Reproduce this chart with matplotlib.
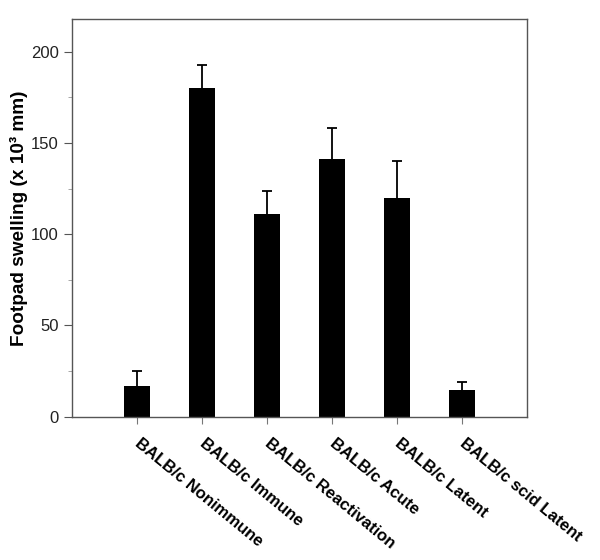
import numpy as np
import matplotlib
matplotlib.use("Agg")
import matplotlib.pyplot as plt
from matplotlib.ticker import MultipleLocator

# values
groups = ["BALB/c Nonimmune", "BALB/c Immune", "BALB/c Reactivation",
          "BALB/c Acute", "BALB/c Latent", "BALB/c scid Latent"]
means = [17, 180, 111, 141, 120, 14.5]
errors = [8, 13, 12.5, 17, 20, 4.7]

plt.rcParams["font.family"] = ["Liberation Sans", "DejaVu Sans"]

fig = plt.figure(figsize=(6.0, 5.6), dpi=100)
ax = fig.add_axes([0.12, 0.256, 0.758, 0.71])

x = np.arange(1, len(groups) + 1)
ax.bar(x, means, width=0.41, color="black", zorder=2)
# upper error bars only
_, caps, _ = ax.errorbar(x, means, yerr=[np.zeros(len(errors)), errors],
                         fmt="none", ecolor="black", elinewidth=1.3,
                         capsize=3.6, capthick=1.3, zorder=3)
caps[0].remove()

ax.set_xlim(0, 7)
ax.set_ylim(0, 218)
ax.set_xticks(x)
ax.set_xticklabels(groups, rotation=-39.5, ha="left", va="center",
                   rotation_mode="anchor", fontsize=12, fontweight="bold")

ax.yaxis.set_major_locator(MultipleLocator(50))
ax.yaxis.set_minor_locator(MultipleLocator(25))
ax.tick_params(axis="y", which="major", labelsize=12, length=6, color="#555555",
               labelcolor="#222222")
ax.tick_params(axis="y", which="minor", length=3, color="#999999")
ax.tick_params(axis="x", length=5, color="#777777", pad=13)

for sp in ax.spines.values():
    sp.set_color("#555555")
    sp.set_linewidth(1.0)

ax.set_ylabel("Footpad swelling (x 10³ mm)", fontsize=13.7,
              fontweight="bold")
ax.yaxis.set_label_coords(-0.097, 0.5)

fig.savefig("out.png", dpi=100)
